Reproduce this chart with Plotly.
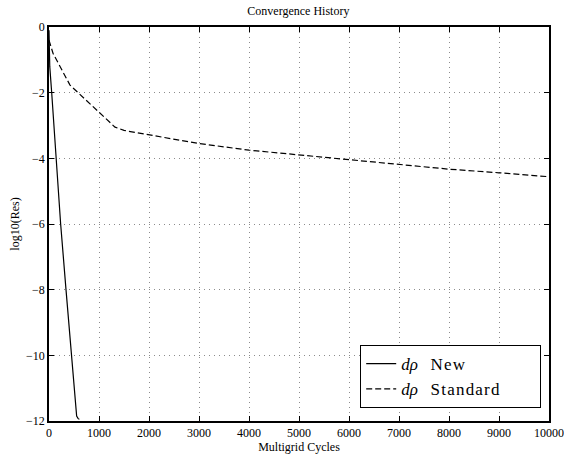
import plotly.graph_objects as go

new_x = [0, 15, 54, 140, 233, 340, 453, 500, 553, 580, 607]
new_y = [-0.1, -1.2, -2.0, -4.05, -6.0, -8.0, -10.0, -10.8, -11.85, -11.92, -11.95]

std_x = [0, 80, 420, 1000, 1320, 1500, 2000, 3000, 4000, 5000, 6000, 7000, 8000, 9000, 10000]
std_y = [-0.4, -0.8, -1.77, -2.6, -3.05, -3.15, -3.29, -3.55, -3.75, -3.9, -4.05, -4.19, -4.33, -4.44, -4.56]

x_ticks = list(range(0, 10001, 1000))
y_ticks = list(range(-12, 1, 2))

serif = "Liberation Serif, Times New Roman, serif"
sp = '<span style="letter-spacing:1.2px">'

fig = go.Figure()
fig.add_trace(go.Scatter(x=new_x, y=new_y, mode="lines",
                         line=dict(color="black", width=1.2),
                         name="<i>dρ</i>&nbsp;&nbsp;&nbsp;" + sp + "New</span>"))
fig.add_trace(go.Scatter(x=std_x, y=std_y, mode="lines",
                         line=dict(color="black", width=1.2, dash="6px,3px"),
                         name="<i>dρ</i>&nbsp;&nbsp;&nbsp;" + sp + "Standard</span>&nbsp;&nbsp;&nbsp;&nbsp;&nbsp;&nbsp;&nbsp;&nbsp;"))

axis_common = dict(showline=True, linecolor="black", linewidth=1.5, mirror="ticks",
                   ticks="inside", ticklen=5, tickcolor="black",
                   showgrid=True, gridcolor="#8c8c8c", griddash="1px,4px", gridwidth=1,
                   zeroline=False, automargin=False,
                   tickfont=dict(family=serif, size=12, color="black"))

fig.update_xaxes(range=[0, 10000], tickvals=x_ticks, ticktext=[str(v) for v in x_ticks],
                 title=dict(text="Multigrid Cycles", font=dict(family=serif, size=12, color="black"), standoff=2),
                 **axis_common)
fig.update_yaxes(range=[-12, 0], tickvals=y_ticks, ticktext=[("−" + str(-v)) if v < 0 else str(v) for v in y_ticks],
                 title=dict(text="log10(Res)", font=dict(family=serif, size=12, color="black"), standoff=4),
                 **axis_common)

fig.update_layout(
    width=564, height=459,
    margin=dict(l=49, r=15, t=27, b=38),
    paper_bgcolor="white", plot_bgcolor="white",
    title=dict(text="Convergence History", x=0.529, xanchor="center", y=0.985, yanchor="top",
               font=dict(family=serif, size=12, color="black")),
    legend=dict(x=0.622, y=0.193, xanchor="left", yanchor="top",
                bordercolor="black", borderwidth=1.2, bgcolor="white",
                font=dict(family=serif, size=17, color="black"),
                tracegroupgap=0, itemwidth=30),
    showlegend=True,
)

fig.write_html("out.html")
